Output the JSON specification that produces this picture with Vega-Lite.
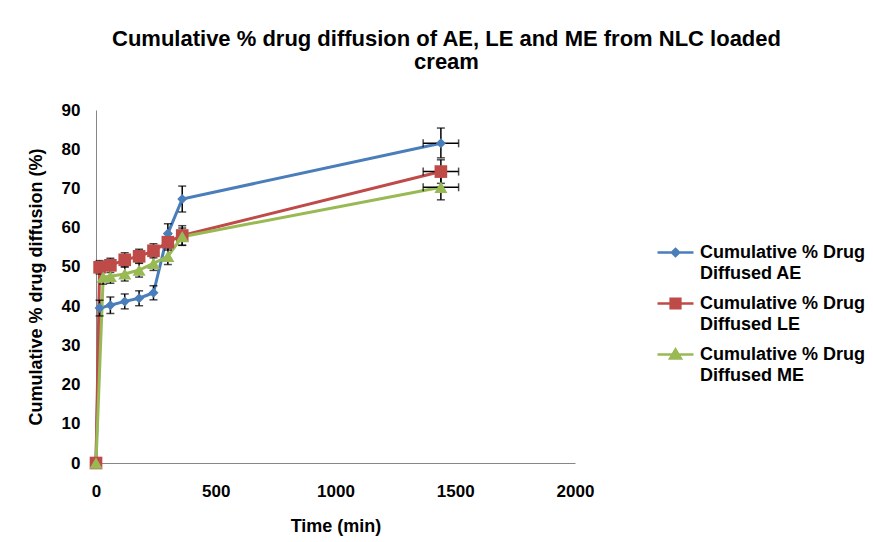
{
  "$schema": "https://vega.github.io/schema/vega-lite/v6.json",
  "width": 479,
  "height": 353,
  "autosize": {"type": "none"},
  "padding": {"left": 96, "top": 110, "right": 298, "bottom": 79},
  "background": "white",
  "config": {
    "view": {"stroke": null},
    "font": "Liberation Sans",
    "axis": {
      "grid": false,
      "ticks": false,
      "domainColor": "#868686",
      "domainWidth": 1,
      "labelFont": "Liberation Sans",
      "labelFontSize": 17,
      "labelFontWeight": "bold",
      "labelColor": "#000000",
      "titleFont": "Liberation Sans",
      "titleFontSize": 18,
      "titleFontWeight": "bold",
      "titleColor": "#000000"
    }
  },
  "title": {
    "text": ["Cumulative % drug diffusion of AE, LE and ME from NLC loaded", "cream"],
    "font": "Liberation Sans",
    "fontSize": 22,
    "fontWeight": "bold",
    "color": "#000000",
    "anchor": "middle",
    "frame": "group",
    "dx": 111,
    "lineHeight": 23,
    "offset": 27
  },
  "data": {
    "values": [
      {"s": "AE", "t": 0, "v": 0},
      {"s": "AE", "t": 15, "v": 39.5, "lo": 37.5, "hi": 41.5},
      {"s": "AE", "t": 60, "v": 40.2, "lo": 38.1, "hi": 42.3},
      {"s": "AE", "t": 120, "v": 41.2, "lo": 39.3, "hi": 43.1},
      {"s": "AE", "t": 180, "v": 42.0, "lo": 40.1, "hi": 43.9},
      {"s": "AE", "t": 240, "v": 43.4, "lo": 41.6, "hi": 45.2},
      {"s": "AE", "t": 300, "v": 58.5, "lo": 56.0, "hi": 61.0},
      {"s": "AE", "t": 360, "v": 67.3, "lo": 64.0, "hi": 70.6},
      {"s": "AE", "t": 1440, "v": 81.5, "lo": 77.8, "hi": 85.4, "xlo": 1366, "xhi": 1514},
      {"s": "LE", "t": 0, "v": 0},
      {"s": "LE", "t": 15, "v": 49.9, "lo": 48.2, "hi": 51.6},
      {"s": "LE", "t": 60, "v": 50.4, "lo": 48.6, "hi": 52.2},
      {"s": "LE", "t": 120, "v": 51.8, "lo": 50.0, "hi": 53.6},
      {"s": "LE", "t": 180, "v": 52.7, "lo": 50.9, "hi": 54.5},
      {"s": "LE", "t": 240, "v": 54.1, "lo": 52.3, "hi": 55.9},
      {"s": "LE", "t": 300, "v": 56.3, "lo": 54.3, "hi": 58.3},
      {"s": "LE", "t": 360, "v": 58.0, "lo": 55.5, "hi": 60.5},
      {"s": "LE", "t": 1440, "v": 74.3, "lo": 71.3, "hi": 77.3, "xlo": 1366, "xhi": 1514},
      {"s": "ME", "t": 0, "v": 0},
      {"s": "ME", "t": 30, "v": 47.4, "lo": 45.6, "hi": 49.2},
      {"s": "ME", "t": 60, "v": 47.6, "lo": 45.8, "hi": 49.4},
      {"s": "ME", "t": 120, "v": 48.2, "lo": 46.4, "hi": 50.0},
      {"s": "ME", "t": 180, "v": 49.2, "lo": 47.4, "hi": 51.0},
      {"s": "ME", "t": 240, "v": 50.9, "lo": 49.1, "hi": 52.7},
      {"s": "ME", "t": 300, "v": 52.7, "lo": 50.6, "hi": 54.8},
      {"s": "ME", "t": 360, "v": 57.7, "lo": 55.5, "hi": 59.9},
      {"s": "ME", "t": 1440, "v": 70.3, "lo": 67.1, "hi": 73.5, "xlo": 1366, "xhi": 1514}
    ]
  },
  "encoding": {
    "x": {
      "field": "t", "type": "quantitative",
      "scale": {"domain": [0, 2000], "nice": false},
      "axis": {"values": [0, 500, 1000, 1500, 2000], "format": "d", "labelPadding": 20, "title": "Time (min)", "titlePadding": 18, "labelFlush": false}
    },
    "y": {
      "field": "v", "type": "quantitative",
      "scale": {"domain": [0, 90], "nice": false},
      "axis": {"values": [0, 10, 20, 30, 40, 50, 60, 70, 80, 90], "format": "d", "labelPadding": 16, "title": "Cumulative % drug diffusion (%)", "titlePadding": 16, "labelFlush": false}
    },
    "color": {
      "field": "s", "type": "nominal",
      "scale": {"domain": ["AE", "LE", "ME"], "range": ["#4A7EBB", "#BE4B48", "#98B954"]},
      "legend": null
    }
  },
  "layer": [
    {
      "mark": {"type": "line", "strokeWidth": 3},
      "encoding": {
        "color": {
          "field": "s", "type": "nominal",
          "scale": {"domain": ["AE", "LE", "ME"], "range": ["#4A7EBB", "#BE4B48", "#98B954"]},
          "legend": {
            "title": null,
            "orient": "none",
            "legendX": 560,
            "legendY": 123,
            "symbolSize": 1296,
            "symbolStrokeWidth": 2.5,
            "labelFont": "Liberation Sans",
            "labelFontSize": 18,
            "labelFontWeight": "bold",
            "labelColor": "#000000",
            "labelLimit": 300,
            "labelOffset": 5,
            "labelExpr": "['Cumulative % Drug', 'Diffused  ' + datum.label]",
            "rowPadding": 0,
            "encode": {
              "symbols": {
                "update": {
                  "shape": {"signal": "datum.value == 'AE' ? 'M-1,0H1M0,-0.2L0.2,0L0,0.2L-0.2,0Z' : datum.value == 'LE' ? 'M-1,0H1M-0.27,-0.27H0.27V0.27H-0.27Z' : 'M-1,0H1M0,-0.28L0.3,0.22H-0.3Z'"},
                  "fill": {"signal": "datum.value == 'AE' ? '#4A7EBB' : datum.value == 'LE' ? '#BE4B48' : '#98B954'"},
                  "stroke": {"signal": "datum.value == 'AE' ? '#4A7EBB' : datum.value == 'LE' ? '#BE4B48' : '#98B954'"},
                  "strokeWidth": {"value": 2.5}
                }
              },
              "labels": {
                "update": {"lineHeight": {"value": 21.7}}
              }
            }
          }
        },
        "order": {"field": "t", "type": "quantitative"}
      }
    },
    {
      "transform": [{"filter": "isValid(datum.lo)"}],
      "mark": {"type": "rule", "color": "#000000", "strokeWidth": 1.5},
      "encoding": {"y": {"field": "lo", "type": "quantitative"}, "y2": {"field": "hi"}, "color": {"value": "#000000"}}
    },
    {
      "transform": [{"filter": "isValid(datum.lo)"}],
      "mark": {"type": "tick", "orient": "horizontal", "color": "#000000", "size": 8, "thickness": 1.5},
      "encoding": {"y": {"field": "lo", "type": "quantitative"}, "color": {"value": "#000000"}}
    },
    {
      "transform": [{"filter": "isValid(datum.hi)"}],
      "mark": {"type": "tick", "orient": "horizontal", "color": "#000000", "size": 8, "thickness": 1.5},
      "encoding": {"y": {"field": "hi", "type": "quantitative"}, "color": {"value": "#000000"}}
    },
    {
      "transform": [{"filter": "isValid(datum.xlo)"}],
      "mark": {"type": "rule", "color": "#000000", "strokeWidth": 1.5},
      "encoding": {"x": {"field": "xlo", "type": "quantitative"}, "x2": {"field": "xhi"}, "color": {"value": "#000000"}}
    },
    {
      "transform": [{"filter": "isValid(datum.xlo)"}],
      "mark": {"type": "tick", "orient": "vertical", "color": "#000000", "size": 8, "thickness": 1.5},
      "encoding": {"x": {"field": "xlo", "type": "quantitative"}, "color": {"value": "#000000"}}
    },
    {
      "transform": [{"filter": "isValid(datum.xhi)"}],
      "mark": {"type": "tick", "orient": "vertical", "color": "#000000", "size": 8, "thickness": 1.5},
      "encoding": {"x": {"field": "xhi", "type": "quantitative"}, "color": {"value": "#000000"}}
    },
    {
      "transform": [{"filter": "datum.s == 'AE'"}],
      "mark": {"type": "point", "filled": true, "opacity": 1, "shape": "diamond", "size": 100}
    },
    {
      "transform": [{"filter": "datum.s == 'LE'"}],
      "mark": {"type": "point", "filled": true, "opacity": 1, "shape": "square", "size": 160}
    },
    {
      "transform": [{"filter": "datum.s == 'ME'"}],
      "mark": {"type": "point", "filled": true, "opacity": 1, "shape": "triangle-up", "size": 170}
    }
  ]
}
